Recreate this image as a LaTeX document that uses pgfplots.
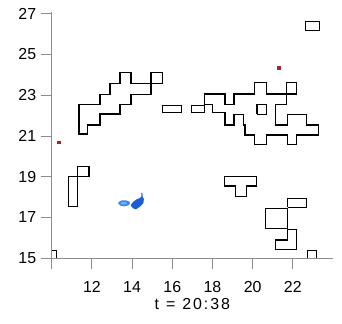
\documentclass[border=0pt]{standalone}
\usepackage{fontspec}
\setmainfont{Liberation Sans}
\usepackage{pgfplots}
\pgfplotsset{compat=1.18}
\definecolor{axgray}{HTML}{8C8C8C}
\definecolor{dred}{HTML}{A02828}
\definecolor{blobA}{HTML}{3388F0}
\definecolor{blobB}{HTML}{70B8FF}
\definecolor{blobC}{HTML}{1A5FD8}
\begin{document}
\begin{tikzpicture}
\useasboundingbox (-51.7bp,-65.7bp) rectangle (290.3bp,258.3bp);
\begin{axis}[
  at={(0,0)}, anchor=south west,
  scale only axis, width=281.3bp, height=246bp,
  xmin=10, xmax=24, ymin=15, ymax=27.06,
  axis lines=left,
  axis line style={-, draw=axgray, line width=0.8bp},
  xtick={10,12,...,22}, xticklabels={,12,14,16,18,20,22},
  ytick={15,17,...,27},
  minor tick num=0,
  tick align=outside, major tick length=11bp,
  tick style={draw=axgray, line width=0.8bp},
  tick label style={font=\fontsize{16}{18}\selectfont, text=black},
  xticklabel style={yshift=-9bp},
  yticklabel style={xshift=-1bp},
  /pgf/number format/assume math mode=true,
  xlabel={t\hspace{7bp}=\hspace{7bp}{\addfontfeature{LetterSpace=12}20:38}},
  xlabel style={font=\fontsize{16}{18}\selectfont, at={(axis description cs:0.5,0)}, anchor=center, yshift=-46bp},
  clip=true,
]
% contour outlines
\addplot[black, line width=1.2bp] coordinates {(11.36,22.55) (11.36,21.09) (11.79,21.09) (11.79,21.53) (12.40,21.53) (12.40,22.07) (13.40,22.07) (13.40,22.55) (13.95,22.55) (13.95,23.04) (14.94,23.04) (14.94,23.58) (13.95,23.58) (13.95,24.12) (13.40,24.12) (13.40,23.58) (12.90,23.58) (12.90,23.04) (12.40,23.04) (12.40,22.55) (11.36,22.55)};
\addplot[black, line width=1.2bp] coordinates {(14.94,23.58) (14.94,24.10) (15.50,24.10) (15.50,23.58) (14.94,23.58)};
\addplot[black, line width=1.2bp] coordinates {(15.50,22.14) (16.47,22.14) (16.47,22.51) (15.50,22.51) (15.50,22.14)};
\addplot[black, line width=1.2bp] coordinates {(16.97,22.14) (17.59,22.14) (17.59,22.51) (16.97,22.51) (16.97,22.14)};
\addplot[black, line width=1.2bp] coordinates {(17.59,22.55) (17.59,23.05) (18.62,23.05) (18.62,22.55) (19.07,22.55) (19.07,23.05) (20.11,23.05) (20.11,23.63) (20.70,23.63) (20.70,23.05) (21.69,23.05) (21.69,22.55) (21.14,22.55) (21.14,21.53) (21.74,21.53) (21.74,22.06) (22.69,22.06) (22.69,21.53) (23.26,21.53) (23.26,21.04) (22.19,21.04) (22.19,20.59) (21.74,20.59) (21.74,21.04) (20.70,21.04) (20.70,20.59) (20.11,20.59) (20.11,21.04) (19.62,21.04) (19.62,21.53) (19.53,21.53) (19.53,22.06) (19.07,22.06) (19.07,21.53) (18.62,21.53) (18.62,22.14) (17.99,22.14) (17.99,22.55) (17.59,22.55)};
\addplot[black, line width=1.2bp] coordinates {(20.22,22.06) (20.70,22.06) (20.70,22.55) (20.22,22.55) (20.22,22.06)};
\addplot[black, line width=1.2bp] coordinates {(21.69,23.05) (21.69,23.63) (22.19,23.63) (22.19,23.05) (21.69,23.05)};
\addplot[black, line width=1.2bp] coordinates {(22.65,26.16) (23.31,26.16) (23.31,26.60) (22.65,26.60) (22.65,26.16)};
\addplot[black, line width=1.2bp] coordinates {(10.83,17.53) (11.29,17.53) (11.29,19.01) (10.83,19.01) (10.83,17.53)};
\addplot[black, line width=1.2bp] coordinates {(11.29,19.01) (11.86,19.01) (11.86,19.49) (11.29,19.49) (11.29,19.01)};
\addplot[black, line width=1.2bp] coordinates {(18.59,19.00) (20.20,19.00) (20.20,18.54) (19.70,18.54) (19.70,18.02) (19.15,18.02) (19.15,18.54) (18.59,18.54) (18.59,19.00)};
\addplot[black, line width=1.2bp] coordinates {(21.74,17.50) (22.69,17.50) (22.69,17.94) (21.74,17.94) (21.74,17.50)};
\addplot[black, line width=1.2bp] coordinates {(20.65,17.45) (21.72,17.45) (21.72,16.47) (20.65,16.47) (20.65,17.45)};
\addplot[black, line width=1.2bp] coordinates {(21.74,16.42) (22.19,16.42) (22.19,15.44) (21.14,15.44) (21.14,15.90) (21.74,15.90) (21.74,16.42)};
\addplot[black, line width=1.2bp] coordinates {(22.74,15.00) (22.74,15.37) (23.18,15.37) (23.18,15.00)};
\addplot[black, line width=1.2bp] coordinates {(10.00,15.39) (10.25,15.39) (10.25,15.00)};
% blue blob
\addplot[fill=blobA, draw=none] coordinates {(13.31,17.70) (13.36,17.78) (13.50,17.84) (13.70,17.84) (13.86,17.78) (13.90,17.70) (13.82,17.60) (13.62,17.55) (13.42,17.58) (13.31,17.70)};
\addplot[fill=blobB, draw=none] coordinates {(13.42,17.70) (13.50,17.76) (13.66,17.76) (13.76,17.70) (13.66,17.64) (13.50,17.64) (13.42,17.70)};
\addplot[fill=blobC, draw=none] coordinates {(13.93,17.61) (14.06,17.77) (14.23,17.89) (14.36,17.94) (14.46,18.02) (14.47,18.22) (14.51,18.22) (14.53,18.02) (14.59,17.89) (14.56,17.70) (14.39,17.53) (14.19,17.40) (14.06,17.45) (13.98,17.53) (13.93,17.61)};
% red marks
\addplot[only marks, mark=square*, mark size=1.3bp, color=dred] coordinates {(10.36,20.69) (21.31,24.34)};
\end{axis}
\end{tikzpicture}
\end{document}
